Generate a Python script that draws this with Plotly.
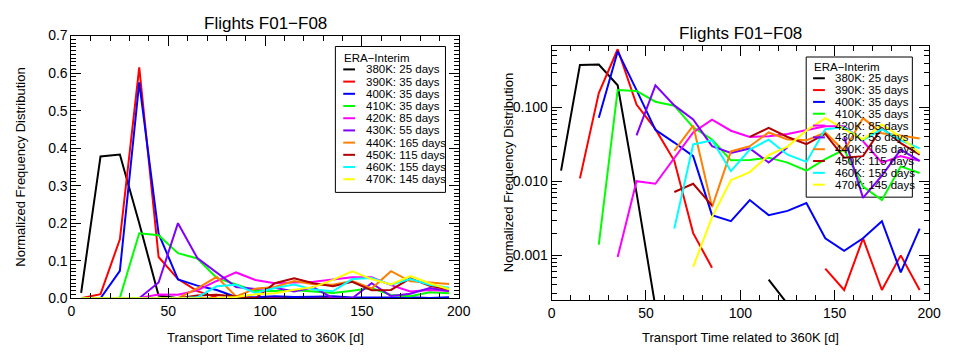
import plotly.graph_objects as go

# ---------------- data ----------------
transport_days = [5, 15, 25, 35, 45, 55, 65, 75, 85, 95,
                  105, 115, 125, 135, 145, 155, 165, 175, 185, 195]

levels = ["380K", "390K", "400K", "410K", "420K", "430K", "440K", "450K", "460K", "470K"]
days = [25, 35, 35, 35, 85, 55, 165, 115, 155, 145]
colors = ["#000000", "#FF0000", "#0000FF", "#00FF00", "#FF00FF",
          "#7F00FF", "#FF8000", "#B00000", "#00FFFF", "#FFFF00"]

k380 = [0.014, 0.378, 0.383, 0.200, 0.007, 0.0002, 0, 0, 0, 0,
        0, 0.00047, 0.00022, 0, 0, 0, 0, 0, 0, 0]
k390 = [0, 0.011, 0.157, 0.615, 0.110, 0.051, 0.019, 0.0020, 0.00068, 0,
        0, 0, 0, 0, 0.00066, 0.00034, 0.0017, 0.00034, 0.0010, 0.00034]
k400 = [0, 0, 0.073, 0.575, 0.172, 0.050, 0.0336, 0.022, 0.0035, 0.0029,
        0.0056, 0.0035, 0.0040, 0.0051, 0.0017, 0.00115, 0.0017, 0.0029, 0.00059, 0.0023]
k410 = [0, 0, 0.0014, 0.173, 0.168, 0.120, 0.106, 0.054, 0.037, 0.0193,
        0.0195, 0.021, 0.018, 0.014, 0.020, 0.027, 0.0085, 0.0056, 0.016, 0.013]
k420 = [0, 0, 0, 0.00095, 0.0101, 0.0093, 0.021, 0.046, 0.0687, 0.0486,
        0.040, 0.041, 0.044, 0.050, 0.056, 0.056, 0.035, 0.018, 0.022, 0.019]
k430 = [0, 0, 0, 0, 0.042, 0.200, 0.107, 0.069, 0.030, 0.0243,
        0.028, 0.018, 0.029, 0, 0, 0.040, 0.006, 0.012, 0.027, 0.019]
k440 = [0, 0, 0, 0, 0, 0, 0.026, 0.057, 0.0045, 0.0255,
        0.030, 0.046, 0.037, 0.036, 0.046, 0.026, 0.072, 0.045, 0.042, 0.038]
k450 = [0, 0, 0, 0, 0, 0, 0.0072, 0.0093, 0.0047, 0,
        0.040, 0.053, 0.040, 0.032, 0.044, 0.021, 0.022, 0.053, 0.033, 0.023]
k460 = [0, 0, 0, 0, 0, 0, 0.0023, 0.0317, 0.036, 0.0138,
        0.027, 0.0367, 0.023, 0.0184, 0.051, 0.054, 0.036, 0.051, 0.036, 0.028]
k470 = [0, 0, 0, 0, 0, 0, 0, 0.0007, 0.0033, 0.0104,
        0.0134, 0.0227, 0.0296, 0.049, 0.072, 0.051, 0.037, 0.059, 0.040, 0.024]

series = [k380, k390, k400, k410, k420, k430, k440, k450, k460, k470]

left_yticks = [0.0, 0.1, 0.2, 0.3, 0.4, 0.5, 0.6, 0.7]
right_yticks = [0.001, 0.01, 0.1]
right_yticktext = ["0.001", "0.010", "0.100"]
xticks = [0, 50, 100, 150, 200]

title_text = "Flights F01\u2212F08"
xtitle = "Transport Time related to 360K [d]"
ytitle = "Normalized Frequency Distribution"
legend_title = "ERA\u2212Interim"

# ---------------- figure ----------------
# the page body has an 8px margin: size the figure so it fills the window exactly
PAGE_W, PAGE_H, BODY = 953, 360, 8
W, H = PAGE_W - 2 * BODY, PAGE_H - 2 * BODY
FONT = "Liberation Sans, Arial, Helvetica, sans-serif"


def px(x):
    return (x - BODY) / W


def py(y):
    return 1 - (y - BODY) / H


fig = go.Figure()
for vals, col, lev in zip(series, colors, levels):
    fig.add_trace(go.Scatter(x=transport_days, y=vals, mode="lines",
                             line=dict(color=col, width=2), showlegend=False,
                             xaxis="x", yaxis="y", name=lev))
for vals, col, lev in zip(series, colors, levels):
    fig.add_trace(go.Scatter(x=transport_days, y=[v if v > 0 else None for v in vals],
                             mode="lines", line=dict(color=col, width=2),
                             showlegend=False, connectgaps=False,
                             xaxis="x2", yaxis="y2", name=lev))

# plot areas (page pixels)
L = dict(x0=68.5, x1=462.5, y0=28.5, y1=304)
R = dict(x0=557, x1=941, y0=39, y1=306)

axis_common = dict(showline=True, linecolor="black", linewidth=1, mirror="ticks",
                   ticks="inside", tickcolor="black", ticklen=10, tickwidth=1,
                   showgrid=False, zeroline=False,
                   tickfont=dict(family=FONT, size=14, color="black"))

fig.update_layout(
    width=W, height=H, margin=dict(l=0, r=0, t=0, b=0),
    paper_bgcolor="white", plot_bgcolor="white", showlegend=False,
    xaxis=dict(domain=[px(L["x0"]), px(L["x1"])], range=[0, 200], tickvals=xticks,
               minor=dict(dtick=10, ticks="inside", ticklen=5, tickcolor="black"),
               anchor="y", **axis_common),
    yaxis=dict(domain=[py(L["y1"]), py(L["y0"])], range=[0, 0.7], tickvals=left_yticks,
               tickformat=".1f",
               minor=dict(dtick=0.01, ticks="inside", ticklen=5, tickcolor="black"),
               anchor="x", **axis_common),
    xaxis2=dict(domain=[px(R["x0"]), px(R["x1"])], range=[0, 200], tickvals=xticks,
                minor=dict(dtick=10, ticks="inside", ticklen=5, tickcolor="black"),
                anchor="y2", **axis_common),
    yaxis2=dict(domain=[py(R["y1"]), py(R["y0"])], type="log",
                range=[-3.606, -0.161], tickvals=right_yticks, ticktext=right_yticktext,
                minor=dict(tickvals=[m * 10 ** e for e in (-4, -3, -2, -1) for m in range(2, 10)],
                           ticks="inside", ticklen=5, tickcolor="black"),
                anchor="x2", **axis_common),
)

ann = []
shapes = []
# titles and axis titles
for P, ty in ((L, 16), (R, 26)):
    cx = (P["x0"] + P["x1"]) / 2
    ann.append(dict(x=px(cx), y=py(ty), xref="paper", yref="paper", text=title_text,
                    showarrow=False, xanchor="center", yanchor="middle",
                    font=dict(family=FONT, size=17, color="black")))
    ann.append(dict(x=px(cx), y=py(345), xref="paper", yref="paper", text=xtitle,
                    showarrow=False, xanchor="center", yanchor="middle",
                    font=dict(family=FONT, size=13, color="black")))
for xx, P in ((17, L), (513, R)):
    cy = (P["y0"] + P["y1"]) / 2
    ann.append(dict(x=px(xx), y=py(cy), xref="paper", yref="paper", text=ytitle,
                    textangle=-90, showarrow=False, xanchor="center", yanchor="middle",
                    font=dict(family=FONT, size=13, color="black")))

# legends (drawn as boxes with sample lines)
legend_specs = [
    dict(box=(337, 40, 449, 193), title_y=51.7, y0=64.0, dy=12.8, lx=(345, 357), tx=366,
         fill="white"),
    dict(box=(816, 51, 924, 198), title_y=61.7, y0=73.3, dy=12.4, lx=(823, 835), tx=843,
         fill="rgba(0,0,0,0)"),
]
for spec in legend_specs:
    bx0, by0, bx1, by1 = spec["box"]
    shapes.append(dict(type="rect", xref="paper", yref="paper", x0=px(bx0), x1=px(bx1),
                       y0=py(by0), y1=py(by1), line=dict(color="black", width=1),
                       fillcolor=spec["fill"], layer="above" if spec["fill"] == "white" else "below"))
    ann.append(dict(x=px(spec["lx"][0] - 1), y=py(spec["title_y"]), xref="paper", yref="paper",
                    text=legend_title, showarrow=False, xanchor="left", yanchor="middle",
                    font=dict(family=FONT, size=11.5, color="black")))
    for i, (lev, d, col) in enumerate(zip(levels, days, colors)):
        yy = spec["y0"] + i * spec["dy"]
        shapes.append(dict(type="line", xref="paper", yref="paper",
                           x0=px(spec["lx"][0]), x1=px(spec["lx"][1]), y0=py(yy), y1=py(yy),
                           line=dict(color=col, width=2), layer="above"))
        ann.append(dict(x=px(spec["tx"]), y=py(yy), xref="paper", yref="paper",
                        text=f"{lev}: {d} days", showarrow=False, xanchor="left",
                        yanchor="middle", font=dict(family=FONT, size=11.5, color="black")))

fig.update_layout(annotations=ann, shapes=shapes)
fig.write_html("out.html")
